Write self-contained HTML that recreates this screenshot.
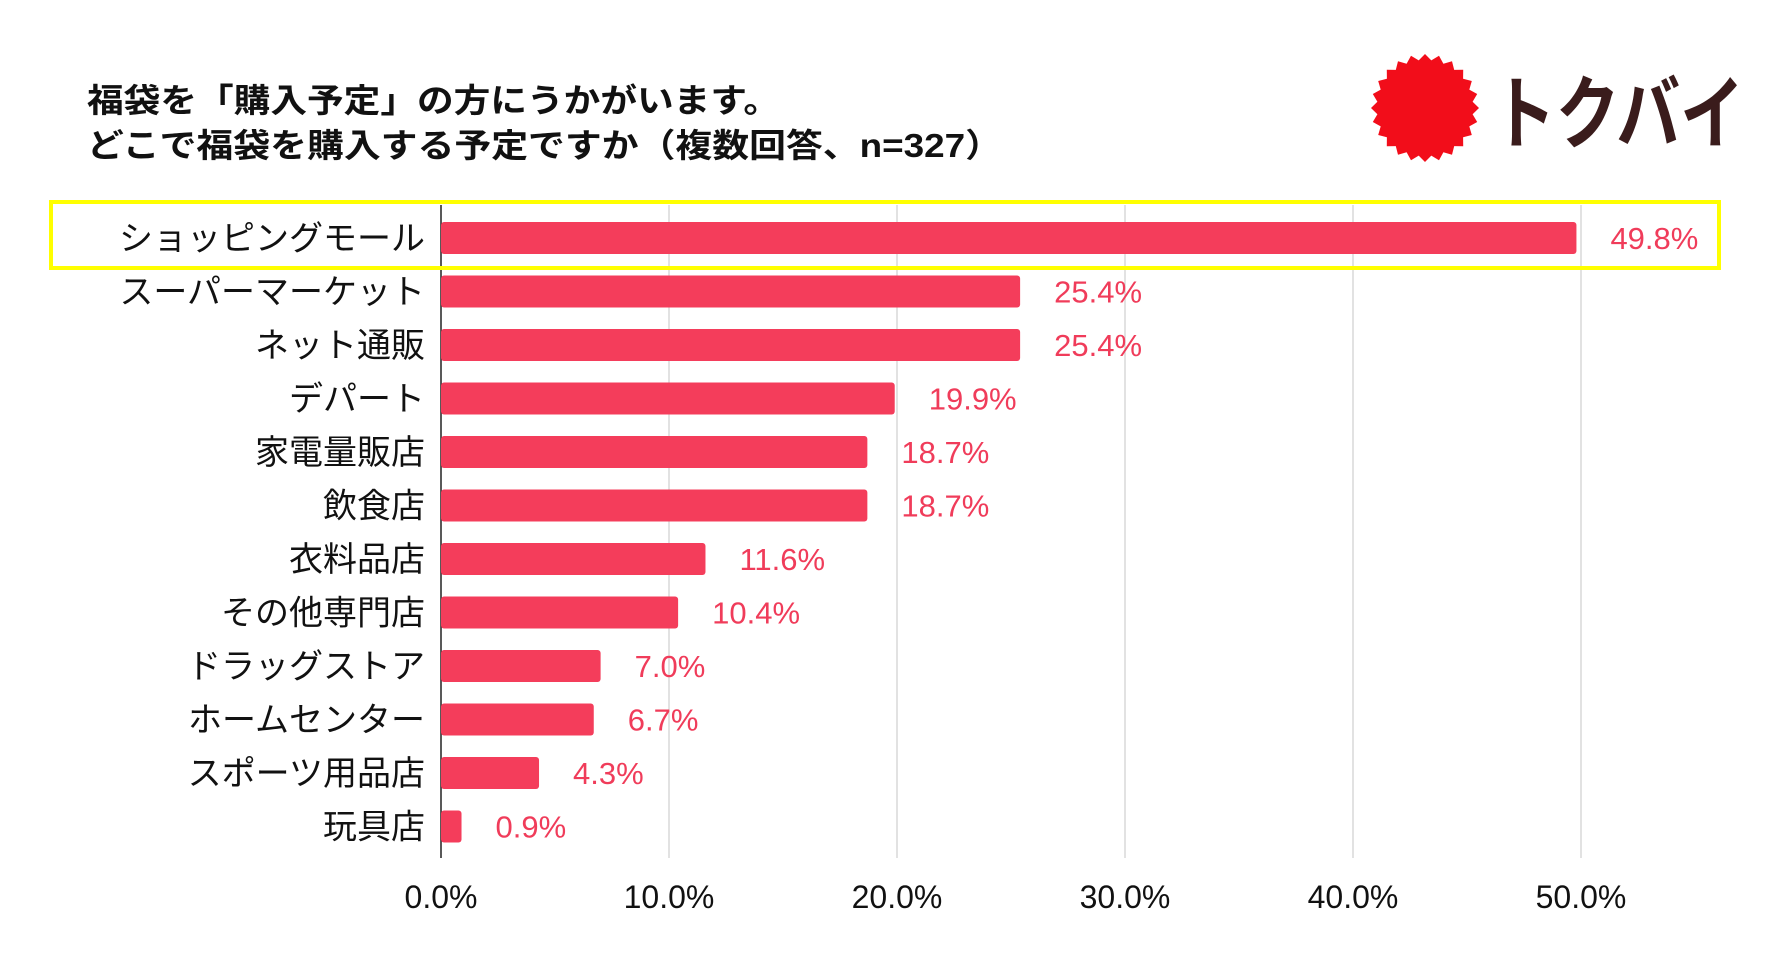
<!DOCTYPE html>
<html><head><meta charset="utf-8"><style>
body{margin:0;background:#fff;width:1776px;height:950px;overflow:hidden;font-family:"Liberation Sans","Noto Sans CJK JP",sans-serif}
</style></head><body>
<svg width="1776" height="950" xmlns="http://www.w3.org/2000/svg">
<g font-weight="bold" font-size="33" fill="#111" font-family="'Liberation Sans','Noto Sans CJK JP',sans-serif">
<text x="87" y="112" textLength="693" lengthAdjust="spacingAndGlyphs">福袋を「購入予定」の方にうかがいます。</text>
<text x="87" y="157" textLength="915" lengthAdjust="spacingAndGlyphs">どこで福袋を購入する予定ですか（複数回答、n=327）</text>
</g>
<g>
<polygon id="burst" fill="#f20d1a"/>
<text x="1492" y="142" font-size="80" font-weight="bold" fill="#3a1c1c" textLength="252" lengthAdjust="spacingAndGlyphs" font-family="'Noto Sans CJK JP',sans-serif">トクバイ</text>
</g>
<g id="grid"></g>
<g id="bars"></g>
<rect x="51" y="202" width="1668" height="66" fill="none" stroke="#ffff00" stroke-width="4"/>
</svg>
<script>
const categories=["ショッピングモール","スーパーマーケット","ネット通販","デパート","家電量販店","飲食店","衣料品店","その他専門店","ドラッグストア","ホームセンター","スポーツ用品店","玩具店"];
const values=[49.8,25.4,25.4,19.9,18.7,18.7,11.6,10.4,7.0,6.7,4.3,0.9];
const ticks=[0,10,20,30,40,50];
const NS="http://www.w3.org/2000/svg";
const x0=441,pxPer=22.8,top0=238,step=53.5,bh=32;
const xs=v=>x0+v*pxPer;
const ys=i=>top0+i*step;
function mk(t,a,p){const e=document.createElementNS(NS,t);for(const k in a)e.setAttribute(k,a[k]);p.appendChild(e);return e;}
const pts=[];const cx=1425,cy=108,N=24;
for(let i=0;i<N*2;i++){const r=i%2?48:54;const a=Math.PI*i/N;pts.push((cx+r*Math.cos(a)).toFixed(1)+","+(cy+r*Math.sin(a)).toFixed(1));}
document.getElementById('burst').setAttribute('points',pts.join(' '));
const g=document.getElementById('grid'),b=document.getElementById('bars');
ticks.forEach(t=>{
 if(t>0){const l=mk('line',{x1:xs(t),x2:xs(t),y1:205,y2:858,stroke:'#cfcfcf','stroke-width':1.2},g);
 
 }
 const tx=mk('text',{x:xs(t),y:908,'text-anchor':'middle','font-size':32,fill:'#111'},g);
 tx.textContent=t.toFixed(1)+'%';
 
 
});
const ax=mk('line',{x1:x0,x2:x0,y1:205,y2:858,stroke:'#222','stroke-width':1.5},g);


categories.forEach((c,i)=>{
 const y=ys(i);
 const r=mk('rect',{x:x0,y:y-bh/2,width:xs(values[i])-x0,height:bh,rx:3,fill:'#f43d5b'},b);
 
 
 const lab=mk('text',{x:425,y:y+12,'text-anchor':'end','font-size':34,fill:'#111'},b);
 lab.textContent=c;
 
 
 const v=mk('text',{x:xs(values[i])+34,y:y+11,'font-size':31,fill:'#f03c5a'},b);
 v.textContent=values[i].toFixed(1)+'%';
 
 
});
</script>
</body></html>
